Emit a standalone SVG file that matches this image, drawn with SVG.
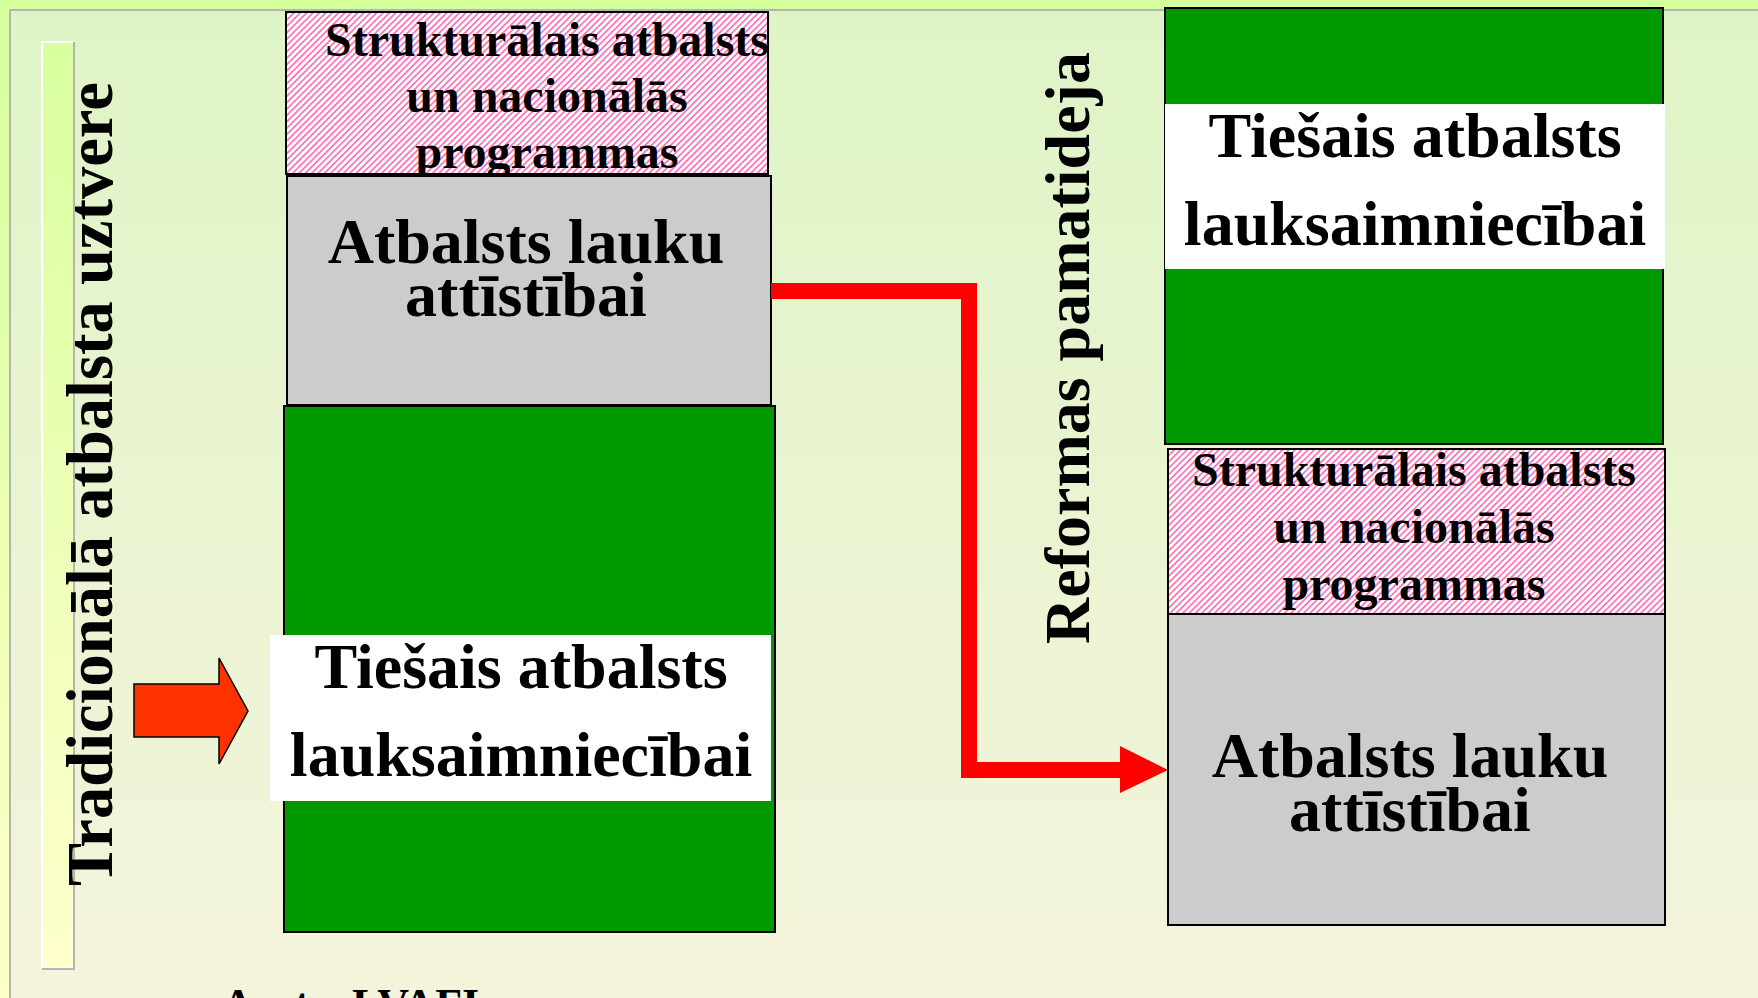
<svg xmlns="http://www.w3.org/2000/svg" width="1758" height="998" viewBox="0 0 1758 998">
<defs>
<linearGradient id="bg" x1="0" y1="0" x2="0" y2="1">
<stop offset="0" stop-color="#dff4c6"/>
<stop offset="1" stop-color="#f4f4dc"/>
</linearGradient>
<linearGradient id="frame" x1="0" y1="0" x2="0" y2="1">
<stop offset="0" stop-color="#d4ff9c"/>
<stop offset="1" stop-color="#ffffc8"/>
</linearGradient>
<linearGradient id="bar" x1="0" y1="0" x2="0" y2="1">
<stop offset="0" stop-color="#d8ff9e"/>
<stop offset="1" stop-color="#ffffcc"/>
</linearGradient>
<pattern id="hatch" patternUnits="userSpaceOnUse" width="4.5" height="4.5" patternTransform="rotate(45)">
<rect width="4.5" height="4.5" fill="#ffffff"/>
<rect x="0" y="0" width="1.8" height="4.5" fill="#ff77bb"/>
</pattern>
<style>
.t{font-family:"Liberation Serif","Times New Roman",serif;font-weight:bold;fill:#000;text-anchor:middle}
.big{font-size:64px}
.sm{font-size:48px}
.box{stroke:#000;stroke-width:2}
.green{fill:#009900}
.gray{fill:#cccccc}
.pink{fill:url(#hatch)}
.band{fill:#ffffff}
</style>
</defs>
<rect x="0" y="0" width="1758" height="998" fill="url(#frame)"/>
<rect x="10" y="10" width="1748" height="988" fill="url(#bg)"/>
<line x1="10" y1="10" x2="1758" y2="10" stroke="#b4b4b4" stroke-width="2"/>
<line x1="10" y1="10" x2="10" y2="998" stroke="#b4b4b4" stroke-width="2"/>

<g id="side-bar">
<rect x="42" y="42" width="32" height="927" fill="url(#bar)"/>
<polyline points="42,969 42,42 74,42" fill="none" stroke="#ffffff" stroke-width="2"/>
<polyline points="74,42 74,969 42,969" fill="none" stroke="#b4b4b4" stroke-width="2"/>
</g>

<g id="label-tradicionala">
<text class="t" font-size="64.5" transform="translate(112,484) rotate(-90)">Tradicionālā atbalsta uztvere</text>
</g>

<g id="label-reformas">
<text class="t" font-size="64" transform="translate(1089,348) rotate(-90)">Reformas pamatideja</text>
</g>

<g id="left-strukturalais">
<rect class="box pink" x="286" y="12" width="482" height="162"/>
<text class="t sm" x="547" y="56">Strukturālais atbalsts</text>
<text class="t sm" x="547" y="112">un nacionālās</text>
<text class="t sm" x="547" y="168">programmas</text>
</g>

<g id="left-lauku">
<rect class="box gray" x="287" y="176" width="484" height="229"/>
<text class="t big" x="526" y="263">Atbalsts lauku</text>
<text class="t big" x="526" y="316">attīstībai</text>
</g>

<g id="left-tiesais">
<rect class="box green" x="284" y="406" width="491" height="526"/>
<rect class="band" x="270" y="635" width="501" height="166"/>
<text class="t big" x="521" y="688">Tiešais atbalsts</text>
<text class="t big" x="521" y="776">lauksaimniecībai</text>
</g>

<g id="left-arrow">
<polygon points="134,684 219,684 219,658 248,711 219,764 219,737 134,737" fill="#ff3300" stroke="#000" stroke-width="1.5" stroke-linejoin="miter"/>
</g>

<g id="right-tiesais">
<rect class="box green" x="1165" y="8" width="498" height="436"/>
<rect class="band" x="1165" y="104" width="500" height="165"/>
<text class="t big" x="1415" y="157">Tiešais atbalsts</text>
<text class="t big" x="1415" y="245">lauksaimniecībai</text>
</g>

<g id="right-strukturalais">
<rect class="box pink" x="1168" y="449" width="497" height="165"/>
<text class="t sm" x="1414" y="486">Strukturālais atbalsts</text>
<text class="t sm" x="1414" y="543">un nacionālās</text>
<text class="t sm" x="1414" y="600">programmas</text>
</g>

<g id="right-lauku">
<rect class="box gray" x="1168" y="614" width="497" height="311"/>
<text class="t big" x="1410" y="777">Atbalsts lauku</text>
<text class="t big" x="1410" y="831">attīstībai</text>
</g>

<g id="connectors">
<polyline points="771,291 969,291 969,770 1122,770" fill="none" stroke="#ff0000" stroke-width="16" stroke-linejoin="miter"/>
<polygon points="1120,746 1168,770 1120,793" fill="#ff0000"/>
</g>

<g id="source">
<text class="t" font-size="44" x="222" y="1019" style="text-anchor:start">Avots: LVAFI</text>
</g>
</svg>
